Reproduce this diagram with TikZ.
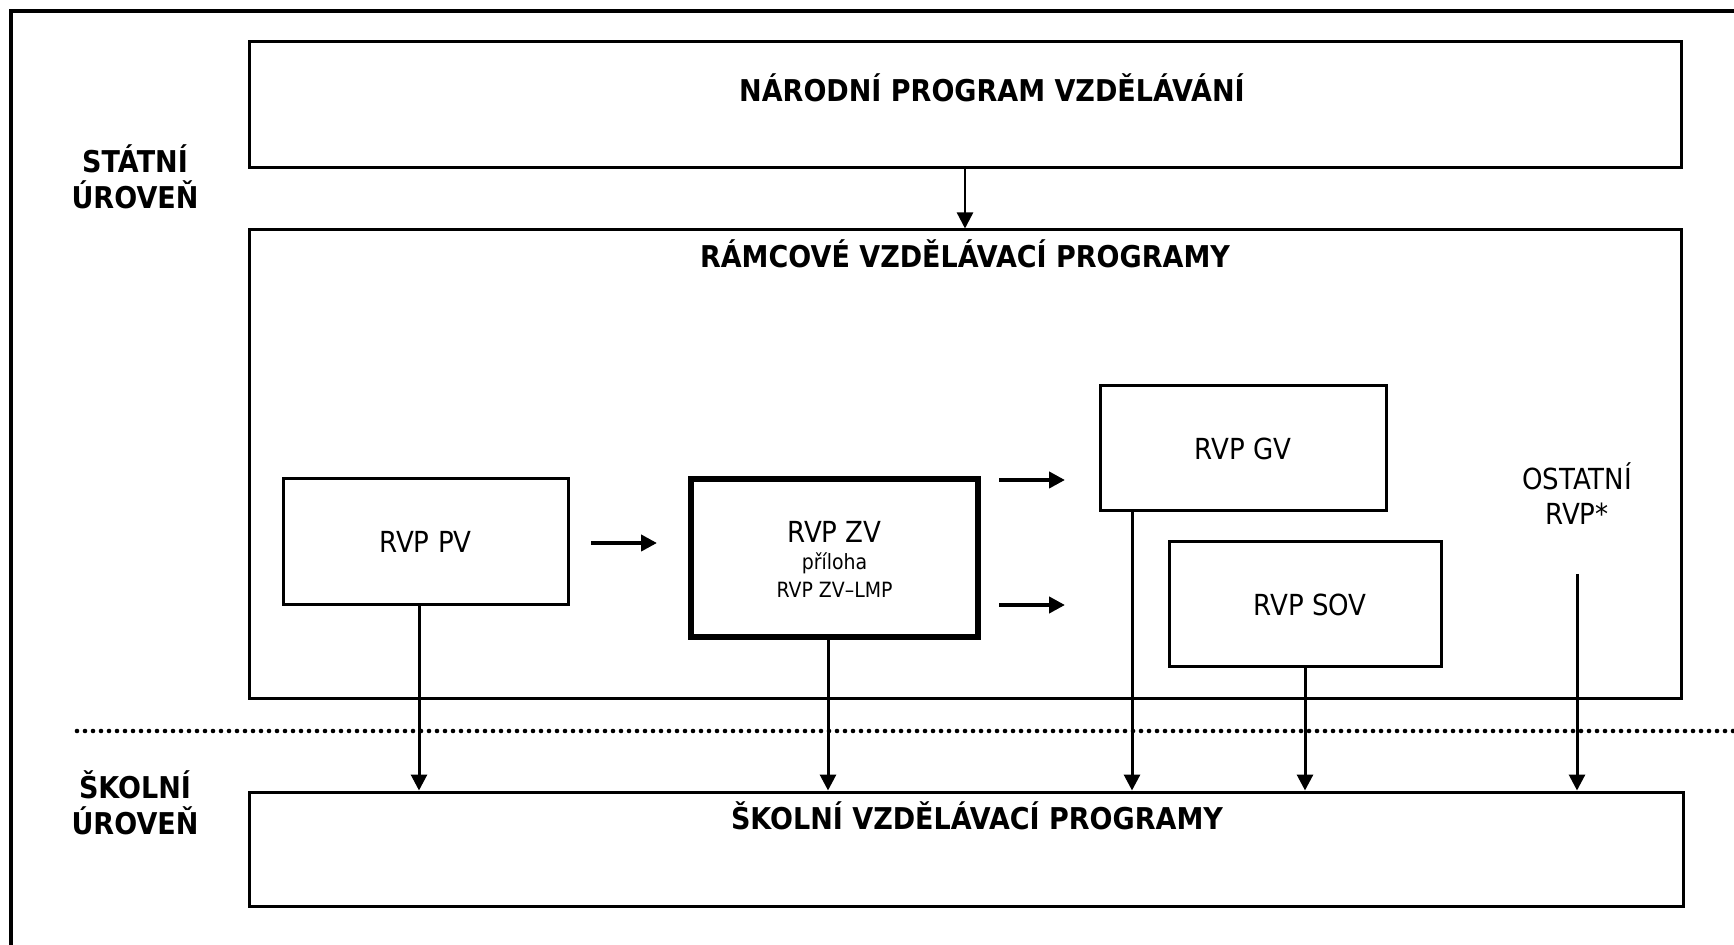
\documentclass[tikz,border=0pt]{standalone}
\usepackage{fontspec}
\setmainfont{DejaVu Sans}[FakeStretch=0.9]
\usetikzlibrary{arrows.meta}
\begin{document}
\begin{tikzpicture}[x=0.5pt,y=-0.5pt,
  box/.style={draw, line width=1.5pt, inner sep=0pt, align=center, font=\fontsize{14.5}{17}\selectfont},
  ttl/.style={inner sep=0pt, align=center, font=\bfseries\fontsize{15}{18}\selectfont},
  txt/.style={inner sep=0pt, align=center, font=\fontsize{14.5}{17.5}\selectfont},
  small/.style={inner sep=0pt, align=center, font=\fontsize{10.5}{13}\selectfont},
  varr/.style={line width=1.5pt, -{Triangle[length=8pt,width=8pt]}},
  harr/.style={line width=2pt, -{Triangle[length=8pt,width=8pt]}},
  dots/.style={line width=2.3pt, line cap=round, dash pattern=on 0pt off 4pt}]
\useasboundingbox (0,0) rectangle (1734,945);
\fill[white] (0,0) rectangle (1734,945);
% outer frame (clipped at right and bottom)
\coordinate (fr1) at (1800,11);
\coordinate (fr2) at (11,11);
\coordinate (fr3) at (11,1000);
\draw[line width=1.75pt] (fr1) -- (fr2) -- (fr3);
% level labels
\node[ttl] (statni) at (135,177) {STÁTNÍ\\ÚROVEŇ};
\node[ttl] (skolni) at (135,803) {ŠKOLNÍ\\ÚROVEŇ};
% main boxes
\node[box, minimum width=716pt, minimum height=63pt] (npv) at (965,105) {};
\node[ttl] (npvt) at (992,88) {NÁRODNÍ PROGRAM VZDĚLÁVÁNÍ};
\node[box, minimum width=716pt, minimum height=234.5pt] (rvp) at (965,464.5) {};
\node[ttl] (rvpt) at (965,254) {RÁMCOVÉ VZDĚLÁVACÍ PROGRAMY};
\node[box, minimum width=717pt, minimum height=57pt] (svp) at (966,849) {};
\node[ttl] (svpt) at (977,816) {ŠKOLNÍ VZDĚLÁVACÍ PROGRAMY};
% inner boxes
\node[box, minimum width=142.5pt, minimum height=63pt] (pv) at (425.5,542) {RVP PV};
\node[box, line width=3pt, minimum width=143.5pt, minimum height=79pt] (zv) at (834.5,558) {};
\node[txt] (zvt) at (834.5,532) {RVP ZV};
\node[small] (zvp) at (834.5,563) {příloha};
\node[small] (zvl) at (834.5,590) {RVP ZV–LMP};
\node[box, minimum width=143pt, minimum height=62.5pt] (gv) at (1243,448.5) {RVP GV};
\node[box, minimum width=136pt, minimum height=62.5pt] (sov) at (1305,604.5) {\hspace*{5pt}RVP SOV};
\node[txt] (ost) at (1577,493.5) {OSTATNÍ\\RVP*};
% separator
\coordinate (d1) at (77,731);
\coordinate (d2) at (1740,731);
\draw[dots] (d1) -- (d2);
% arrows
\draw[varr, line width=1.2pt] (npv.south) -- (rvp.north);
\coordinate (p1) at (591,543);
\coordinate (p2) at (657,543);
\draw[harr] (p1) -- (p2);
\coordinate (g1) at (999,480);
\coordinate (g2) at (1065,480);
\coordinate (s1) at (999,605);
\coordinate (s2) at (1065,605);
\draw[harr] (g1) -- (g2);
\draw[harr] (s1) -- (s2);
\draw[varr] ([xshift=-3.25pt]pv.south) -- ([xshift=-3.25pt]pv.south |- svp.north);
\draw[varr] ([xshift=-3.25pt]zv.south) -- ([xshift=-3.25pt]zv.south |- svp.north);
\draw[varr] ([xshift=-55.5pt]gv.south) -- ([xshift=-55.5pt]gv.south |- svp.north);
\draw[varr] (sov.south) -- (sov.south |- svp.north);
\coordinate (o1) at (1577,574);
\draw[varr] (o1) -- (o1 |- svp.north);
\end{tikzpicture}
\end{document}
